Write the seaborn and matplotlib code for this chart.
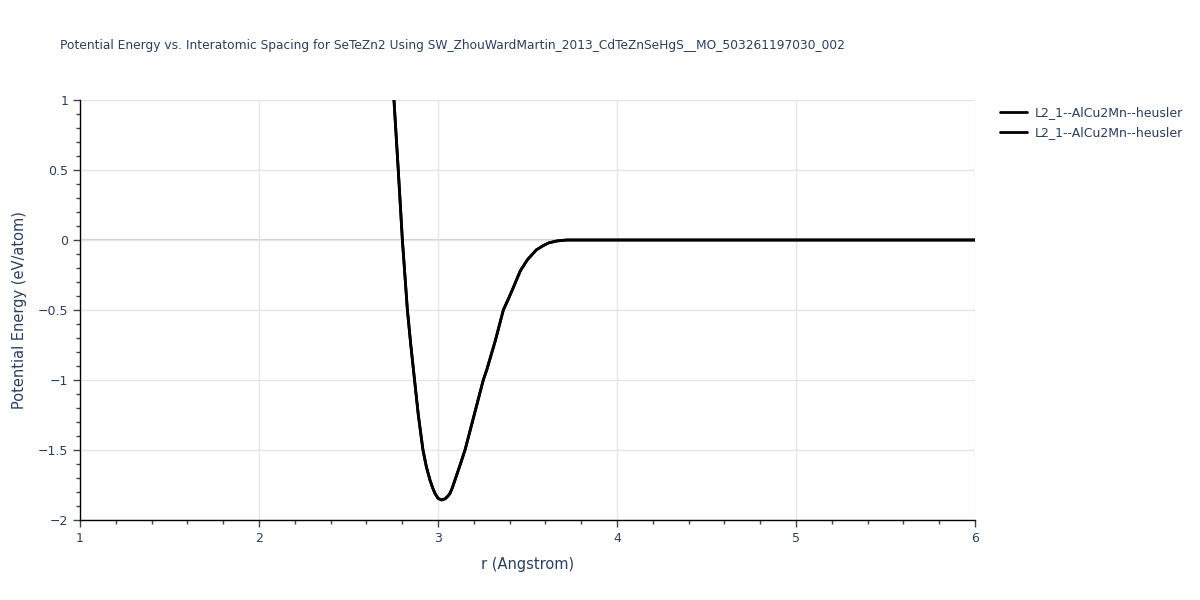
import matplotlib
matplotlib.use("Agg")
import matplotlib.pyplot as plt
from matplotlib.ticker import MultipleLocator
import seaborn as sns
import pandas as pd

# values
r_vals = [2.754, 2.778, 2.801, 2.829, 2.848, 2.869, 2.890, 2.916, 2.935, 2.955,
          2.970, 2.983, 3.000, 3.020, 3.040, 3.055, 3.067, 3.080, 3.095, 3.120,
          3.151, 3.200, 3.253, 3.272, 3.320, 3.365, 3.390, 3.415, 3.460, 3.500,
          3.550, 3.588, 3.620, 3.663, 3.720, 4.0, 5.0, 6.0]
energy_vals = [1.0, 0.5, 0.0, -0.5, -0.75, -1.0, -1.25, -1.5, -1.62, -1.714,
               -1.77, -1.81, -1.845, -1.857, -1.848, -1.83, -1.81, -1.77, -1.714, -1.62,
               -1.5, -1.26, -1.0, -0.929, -0.72, -0.5, -0.43, -0.357, -0.22, -0.14,
               -0.07, -0.04, -0.02, -0.007, 0.0, 0.0, 0.0, 0.0]
series_names = ["L2_1--AlCu2Mn--heusler", "L2_1--AlCu2Mn--heusler"]

title = "Potential Energy vs. Interatomic Spacing for SeTeZn2 Using SW_ZhouWardMartin_2013_CdTeZnSeHgS__MO_503261197030_002"

df = pd.DataFrame({"r": r_vals, "E": energy_vals})

sns.set_theme(style="white")
plt.rcParams['font.family'] = ['DejaVu Sans']
txt = "#2a3f5f"

fig = plt.figure(figsize=(12, 6), dpi=100)
ax = fig.add_axes([80/1200, 80/600, 895/1200, 420/600])

for name in series_names:
    sns.lineplot(data=df, x="r", y="E", ax=ax, color="black", linewidth=2,
                 label=name, sort=False)

ax.set_xlim(1, 6)
ax.set_ylim(-2, 1)
ax.xaxis.set_major_locator(MultipleLocator(1))
ax.xaxis.set_minor_locator(MultipleLocator(0.2))
ax.yaxis.set_major_locator(MultipleLocator(0.5))
ax.yaxis.set_minor_locator(MultipleLocator(0.1))
ax.set_yticklabels([("\u2212" + f"{abs(v):g}") if v < 0 else f"{v:g}" for v in ax.get_yticks()])

ax.grid(True, which="major", color="#e6e6e6", linewidth=1)
ax.axhline(0, color="#d0d0d0", linewidth=1.5, zorder=0)

for s in ["top", "right"]:
    ax.spines[s].set_visible(False)
for s in ["left", "bottom"]:
    ax.spines[s].set_color("black")
    ax.spines[s].set_linewidth(1)

ax.tick_params(which="major", direction="out", length=5, width=1, color="#444444",
               labelsize=9, labelcolor=txt, left=True, bottom=True)
ax.tick_params(which="minor", direction="out", length=3, width=1, color="#444444",
               left=True, bottom=True)

ax.set_xlabel("r (Angstrom)", fontsize=10.5, color=txt, labelpad=9)
ax.set_ylabel("Potential Energy (eV/atom)", fontsize=10.5, color=txt, labelpad=8)

fig.text(60/1200, 1 - 45/600, title, fontsize=8.8, color=txt, ha="left", va="center")

leg = ax.legend(loc="upper left", bbox_to_anchor=(1.015, 1.012), frameon=False,
                fontsize=9, handlelength=2.2, handletextpad=0.6, labelspacing=0.55)
for t in leg.get_texts():
    t.set_color(txt)

fig.savefig("out.png", dpi=100)
